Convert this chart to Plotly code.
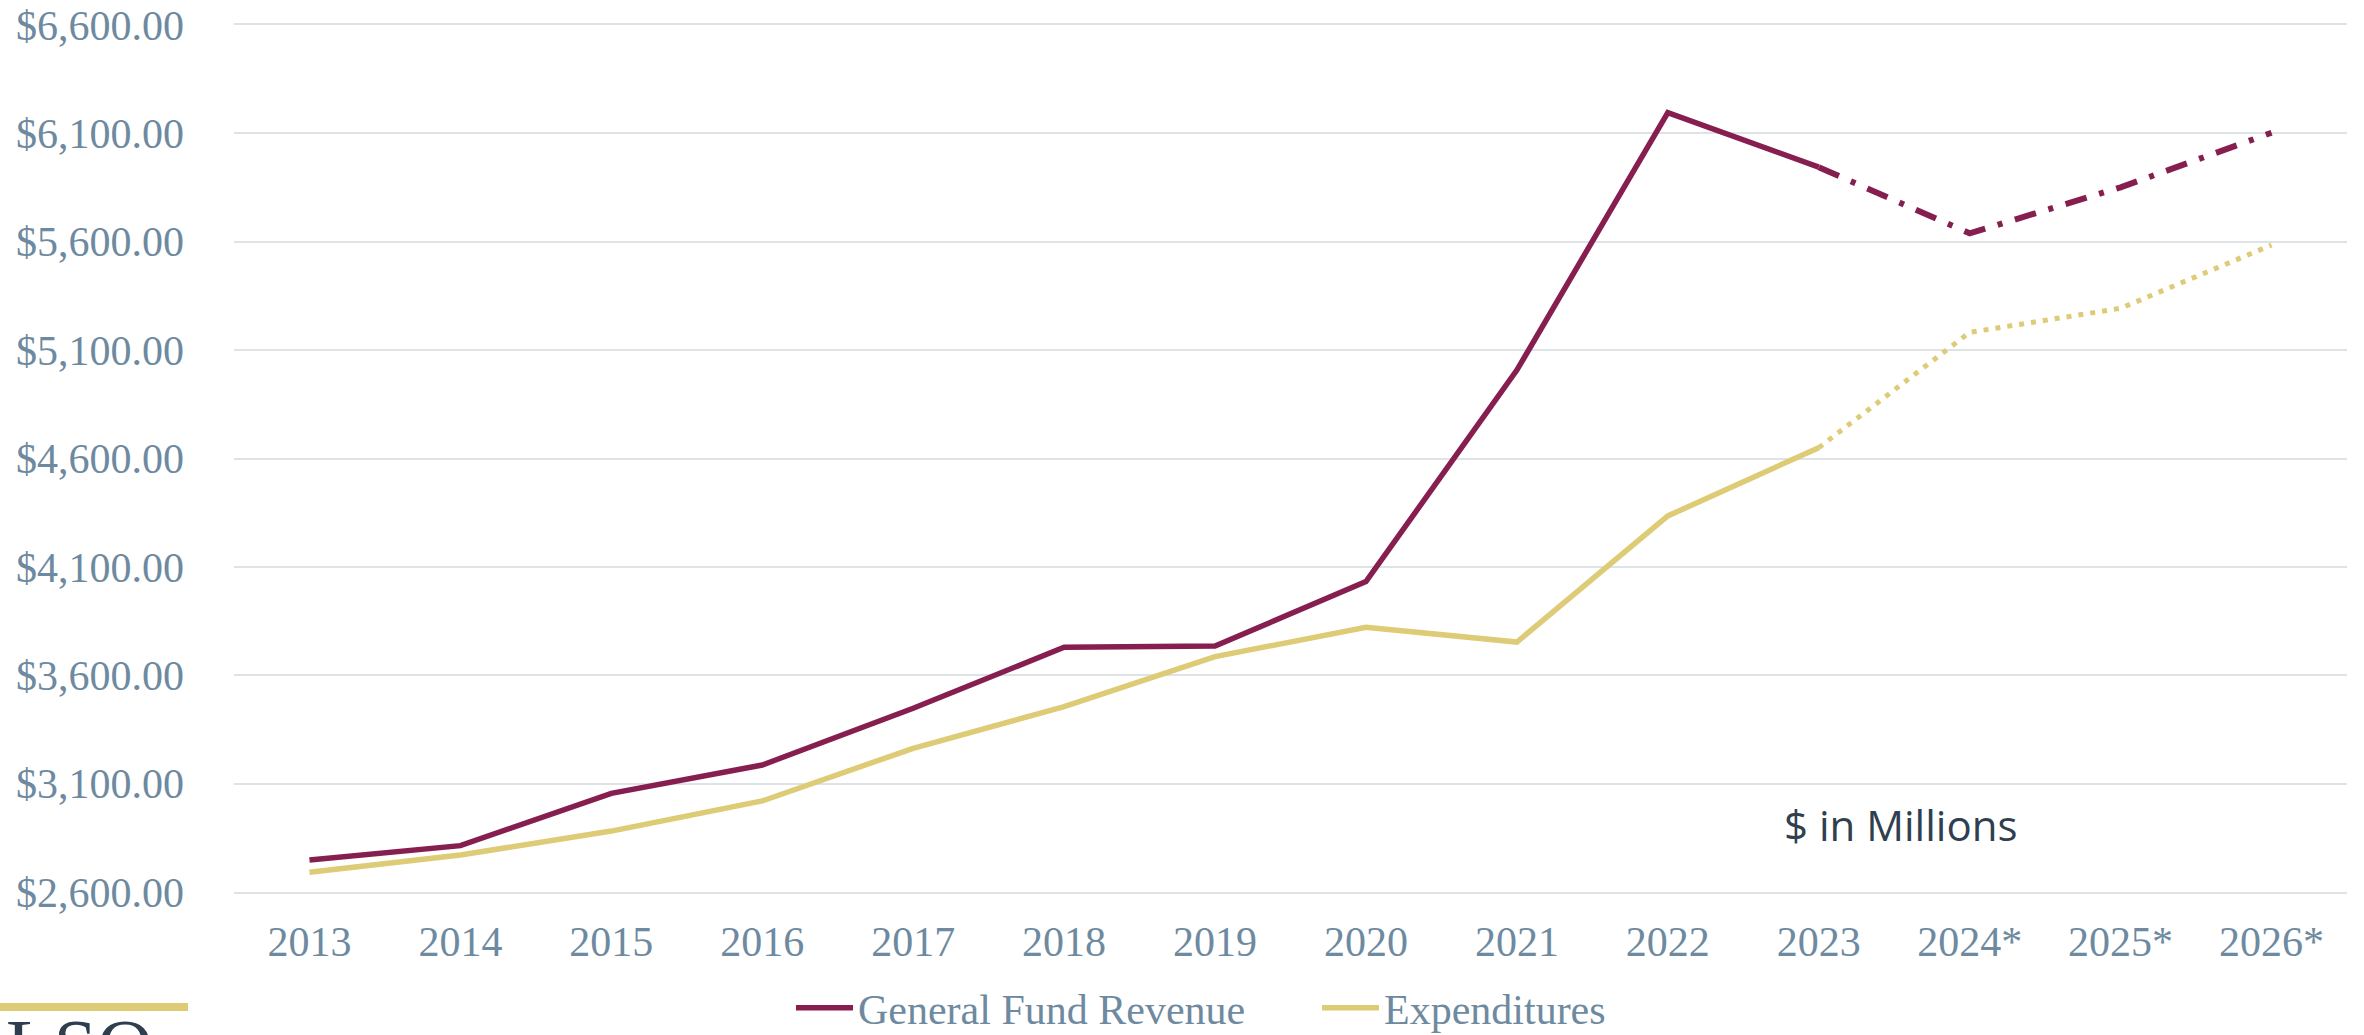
import plotly.graph_objects as go

# ---------------- data ----------------
years = ["2013", "2014", "2015", "2016", "2017", "2018", "2019", "2020",
         "2021", "2022", "2023", "2024*", "2025*", "2026*"]
revenue_actual = [2748, 2814, 3055, 3186, 3448, 3729, 3735, 4032, 5008, 6196, 5944]
revenue_forecast = [5944, 5639, 5851, 6103]          # 2023 .. 2026*
expend_actual = [2691, 2771, 2881, 3020, 3263, 3455, 3686, 3821, 3753, 4335, 4650]
expend_forecast = [4650, 5182, 5293, 5585]           # 2023 .. 2026*
y_ticks = [2600, 3100, 3600, 4100, 4600, 5100, 5600, 6100, 6600]

# ---------------- style ----------------
W, H = 2364, 1035
L, R, T, B = 234, 17, 25, 143
PW, PH = W - L - R, H - T - B
REV = "#861F4F"
EXP = "#DDCB76"
TICK = "#6E8AA0"
GRID = "#DEE3E8"
SERIF = "Liberation Serif"


def px_x(x):
    return (x - L) / PW


def px_y(y):
    return (H - B - y) / PH


fig = go.Figure()
fig.add_trace(go.Scatter(x=years[:11], y=revenue_actual, mode="lines",
                         name="General Fund Revenue",
                         line=dict(color=REV, width=5.5)))
fig.add_trace(go.Scatter(x=years[10:], y=revenue_forecast, mode="lines",
                         showlegend=False,
                         line=dict(color=REV, width=6, dash="22px,13px,5px,13px")))
fig.add_trace(go.Scatter(x=years[:11], y=expend_actual, mode="lines",
                         name="Expenditures",
                         line=dict(color=EXP, width=5.5)))
fig.add_trace(go.Scatter(x=years[10:], y=expend_forecast, mode="lines",
                         showlegend=False,
                         line=dict(color=EXP, width=5, dash="5px,7px")))

fig.update_layout(
    width=W, height=H,
    margin=dict(l=L, r=R, t=T, b=B, pad=0, autoexpand=False),
    paper_bgcolor="white", plot_bgcolor="white",
    showlegend=True,
    legend=dict(orientation="h", x=px_x(791), xanchor="left",
                y=px_y(1008), yanchor="middle",
                font=dict(family=SERIF, size=42, color=TICK),
                itemwidth=57,
                entrywidth=454, entrywidthmode="pixels",
                bgcolor="rgba(0,0,0,0)"),
    xaxis=dict(type="category", categoryorder="array", categoryarray=years,
               range=[-0.5, len(years) - 0.5],
               showgrid=False, zeroline=False,
               showline=True, mirror=True, linecolor=GRID, linewidth=2,
               ticks="", ticklabelstandoff=12,
               tickfont=dict(family=SERIF, size=42, color=TICK)),
    yaxis=dict(range=[2600, 6600], tickvals=y_ticks,
               tickformat="$,.2f",
               showgrid=True, gridcolor=GRID, gridwidth=2,
               zeroline=False, showline=False, ticks="",
               ticklabelstandoff=49,
               tickfont=dict(family=SERIF, size=42, color=TICK)),
    shapes=[dict(type="rect", xref="paper", yref="paper",
                 x0=px_x(0), x1=px_x(188), y0=px_y(1011), y1=px_y(1003),
                 fillcolor="#DDCB76", line=dict(width=0), layer="above")],
    annotations=[
        dict(text="$ in Millions", xref="paper", yref="paper",
             x=px_x(1900), y=px_y(824), xanchor="center", yanchor="middle",
             showarrow=False,
             font=dict(family="Open Sans", size=42, color="#2F3F4F")),
        dict(text="LSO", xref="paper", yref="paper",
             x=px_x(4), y=px_y(1001), xanchor="left", yanchor="top",
             showarrow=False,
             font=dict(family=SERIF, size=78, color="#2E3E4E")),
    ],
)

fig.write_html("out.html",
               config={"displayModeBar": False},
               post_script="document.body.style.margin='0px';"
                           "document.body.style.overflow='hidden';")
